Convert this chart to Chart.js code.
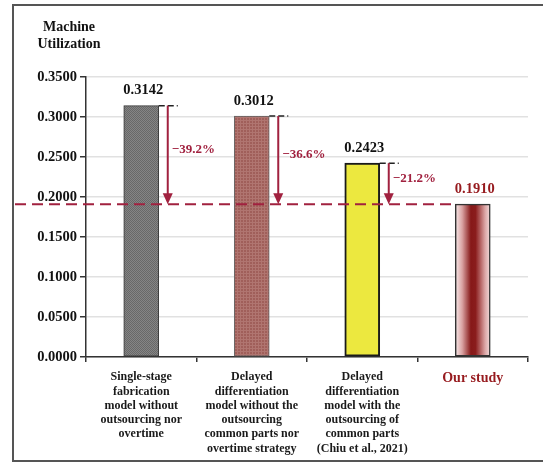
<!DOCTYPE html>
<html>
<head>
<meta charset="utf-8">
<script src="https://cdn.jsdelivr.net/npm/chart.js@4/dist/chart.umd.min.js"></script>
<style>
  html, body { margin: 0; padding: 0; background: #fff; }
  canvas { display: block; }
</style>
</head>
<body>
<canvas id="chart" width="543" height="463"></canvas>
<script>
// --- Datos ---
const categories = [
  ["Single-stage", "fabrication", "model without", "outsourcing nor", "overtime"],
  ["Delayed", "differentiation", "model without the", "outsourcing", "common parts nor", "overtime strategy"],
  ["Delayed", "differentiation", "model with the", "outsourcing of", "common parts", "(Chiu et al., 2021)"],
  ["Our study"]
];
const utilization = [0.3142, 0.3012, 0.2423, 0.1910];
const valueLabels = ["0.3142", "0.3012", "0.2423", "0.1910"];
const reductionLabels = ["\u221239.2%", "\u221236.6%", "\u221221.2%"];
const yTitle = ["Machine", "Utilization"];

// --- Estilos ---
const SERIF = "'Liberation Serif', 'Times New Roman', serif";
const RED = "#a1213f";
const DARK_RED = "#971b1f";

function makePattern(size, draw) {
  const c = document.createElement("canvas");
  c.width = size; c.height = size;
  draw(c.getContext("2d"));
  return c.getContext("2d").createPattern(c, "repeat");
}
const grayChecker = makePattern(2, g => {
  g.fillStyle = "#858585"; g.fillRect(0, 0, 2, 2);
  g.fillStyle = "#686868"; g.fillRect(0, 0, 1, 1); g.fillRect(1, 1, 1, 1);
});
const brownGrid = makePattern(3, g => {
  g.fillStyle = "#a05f5a"; g.fillRect(0, 0, 3, 3);
  g.fillStyle = "#b07570"; g.fillRect(0, 0, 3, 1); g.fillRect(0, 0, 1, 3);
});

function barFill(ctx) {
  const i = ctx.dataIndex;
  if (i === 0) return grayChecker;
  if (i === 1) return brownGrid;
  if (i === 2) return "#ece83f";
  const chart = ctx.chart;
  const xs = chart.scales.x;
  if (!xs) return "#8b1c1c";
  const cx = xs.getPixelForValue(i) + 1;
  const g = chart.ctx.createLinearGradient(cx - 18, 0, cx + 18, 0);
  g.addColorStop(0, "#f6e6e6");
  g.addColorStop(0.18, "#d9a2a2");
  g.addColorStop(0.42, "#861818");
  g.addColorStop(0.55, "#8a1c1c");
  g.addColorStop(0.82, "#dca8a8");
  g.addColorStop(1, "#f8ecec");
  return g;
}

// --- Plugin: marco, título, etiquetas y flechas ---
const decorations = {
  id: "decorations",
  beforeDraw(chart) {
    const c = chart.ctx;
    c.save();
    c.strokeStyle = "#555";
    c.lineWidth = 2;
    c.strokeRect(13, 5, 560, 456);
    c.fillStyle = "#111";
    c.font = "bold 14px " + SERIF;
    c.textAlign = "center";
    c.textBaseline = "middle";
    c.fillText(yTitle[0], 69, 27);
    c.fillText(yTitle[1], 69, 44);
    c.restore();
  },
  afterDatasetsDraw(chart) {
    const c = chart.ctx;
    const meta = chart.getDatasetMeta(0);
    const ys = chart.scales.y;
    const base = ys.getPixelForValue(utilization[3]);
    const last = meta.data[3];

    c.save();
    // linea de referencia
    c.strokeStyle = RED;
    c.lineWidth = 2;
    c.setLineDash([11, 6]);
    c.beginPath();
    c.moveTo(15, base);
    c.lineTo(last.x - last.width / 2, base);
    c.stroke();

    // flechas de reducción
    for (let i = 0; i < 3; i++) {
      const b = meta.data[i];
      const right = b.x + b.width / 2;
      const ax = right + 9;
      c.setLineDash([6, 3]);
      c.strokeStyle = "#222";
      c.lineWidth = 1.5;
      c.beginPath();
      c.moveTo(right, b.y);
      c.lineTo(right + 19, b.y);
      c.stroke();

      c.setLineDash([]);
      c.strokeStyle = RED;
      c.lineWidth = 2;
      c.beginPath();
      c.moveTo(ax, b.y);
      c.lineTo(ax, base - 9);
      c.stroke();
      c.fillStyle = RED;
      c.beginPath();
      c.moveTo(ax - 5, base - 11);
      c.lineTo(ax + 5, base - 11);
      c.lineTo(ax, base);
      c.closePath();
      c.fill();

      c.font = "bold 13px " + SERIF;
      c.textAlign = "left";
      c.textBaseline = "middle";
      c.fillText(reductionLabels[i], ax + 4, (b.y + base) / 2 - 5);
    }

    // valores sobre las barras
    c.font = "bold 14.5px " + SERIF;
    c.textAlign = "center";
    c.textBaseline = "middle";
    meta.data.forEach((b, i) => {
      c.fillStyle = i === 3 ? DARK_RED : "#111";
      c.fillText(valueLabels[i], b.x + 2, b.y - 15);
    });
    c.restore();
  }
};

// --- Gráfico ---
new Chart(document.getElementById("chart"), {
  type: "bar",
  data: {
    labels: categories,
    datasets: [{
      data: utilization,
      backgroundColor: barFill,
      borderColor: ["#3a3a3a", "#666", "#1a1a1a", "#333"],
      borderWidth: [1, 1, 2, 1.5],
      borderSkipped: false,
      barThickness: 35
    }]
  },
  options: {
    responsive: false,
    animation: false,
    devicePixelRatio: 1,
    layout: { padding: { top: 77, right: 15, left: 0, bottom: 0 } },
    plugins: {
      legend: { display: false },
      tooltip: { enabled: false }
    },
    scales: {
      x: {
        offset: true,
        grid: {
          offset: true,
          drawOnChartArea: false,
          drawTicks: true,
          tickLength: 5,
          tickColor: "#333",
          lineWidth: 1.5
        },
        border: { color: "#333", width: 1.5 },
        ticks: {
          autoSkip: false,
          maxRotation: 0,
          padding: 8,
          color: ctx => ctx.index === 3 ? DARK_RED : "#1a1a1a",
          font: ctx => ctx.index === 3
            ? { family: SERIF, weight: "bold", size: 14, lineHeight: 1.2 }
            : { family: SERIF, weight: "bold", size: 12, lineHeight: 1.19 }
        },
        afterFit: s => { s.height = 106; }
      },
      y: {
        min: 0,
        max: 0.35,
        grid: {
          color: "#e1e1e1",
          lineWidth: 1.5,
          tickColor: "#333",
          tickLength: 6
        },
        border: { color: "#333", width: 1.5 },
        ticks: {
          stepSize: 0.05,
          padding: 3,
          color: "#111",
          font: { family: SERIF, weight: "bold", size: 14.5 },
          callback: v => v.toFixed(4)
        },
        afterFit: s => { s.width = 86; }
      }
    }
  },
  plugins: [decorations]
});
</script>
</body>
</html>
